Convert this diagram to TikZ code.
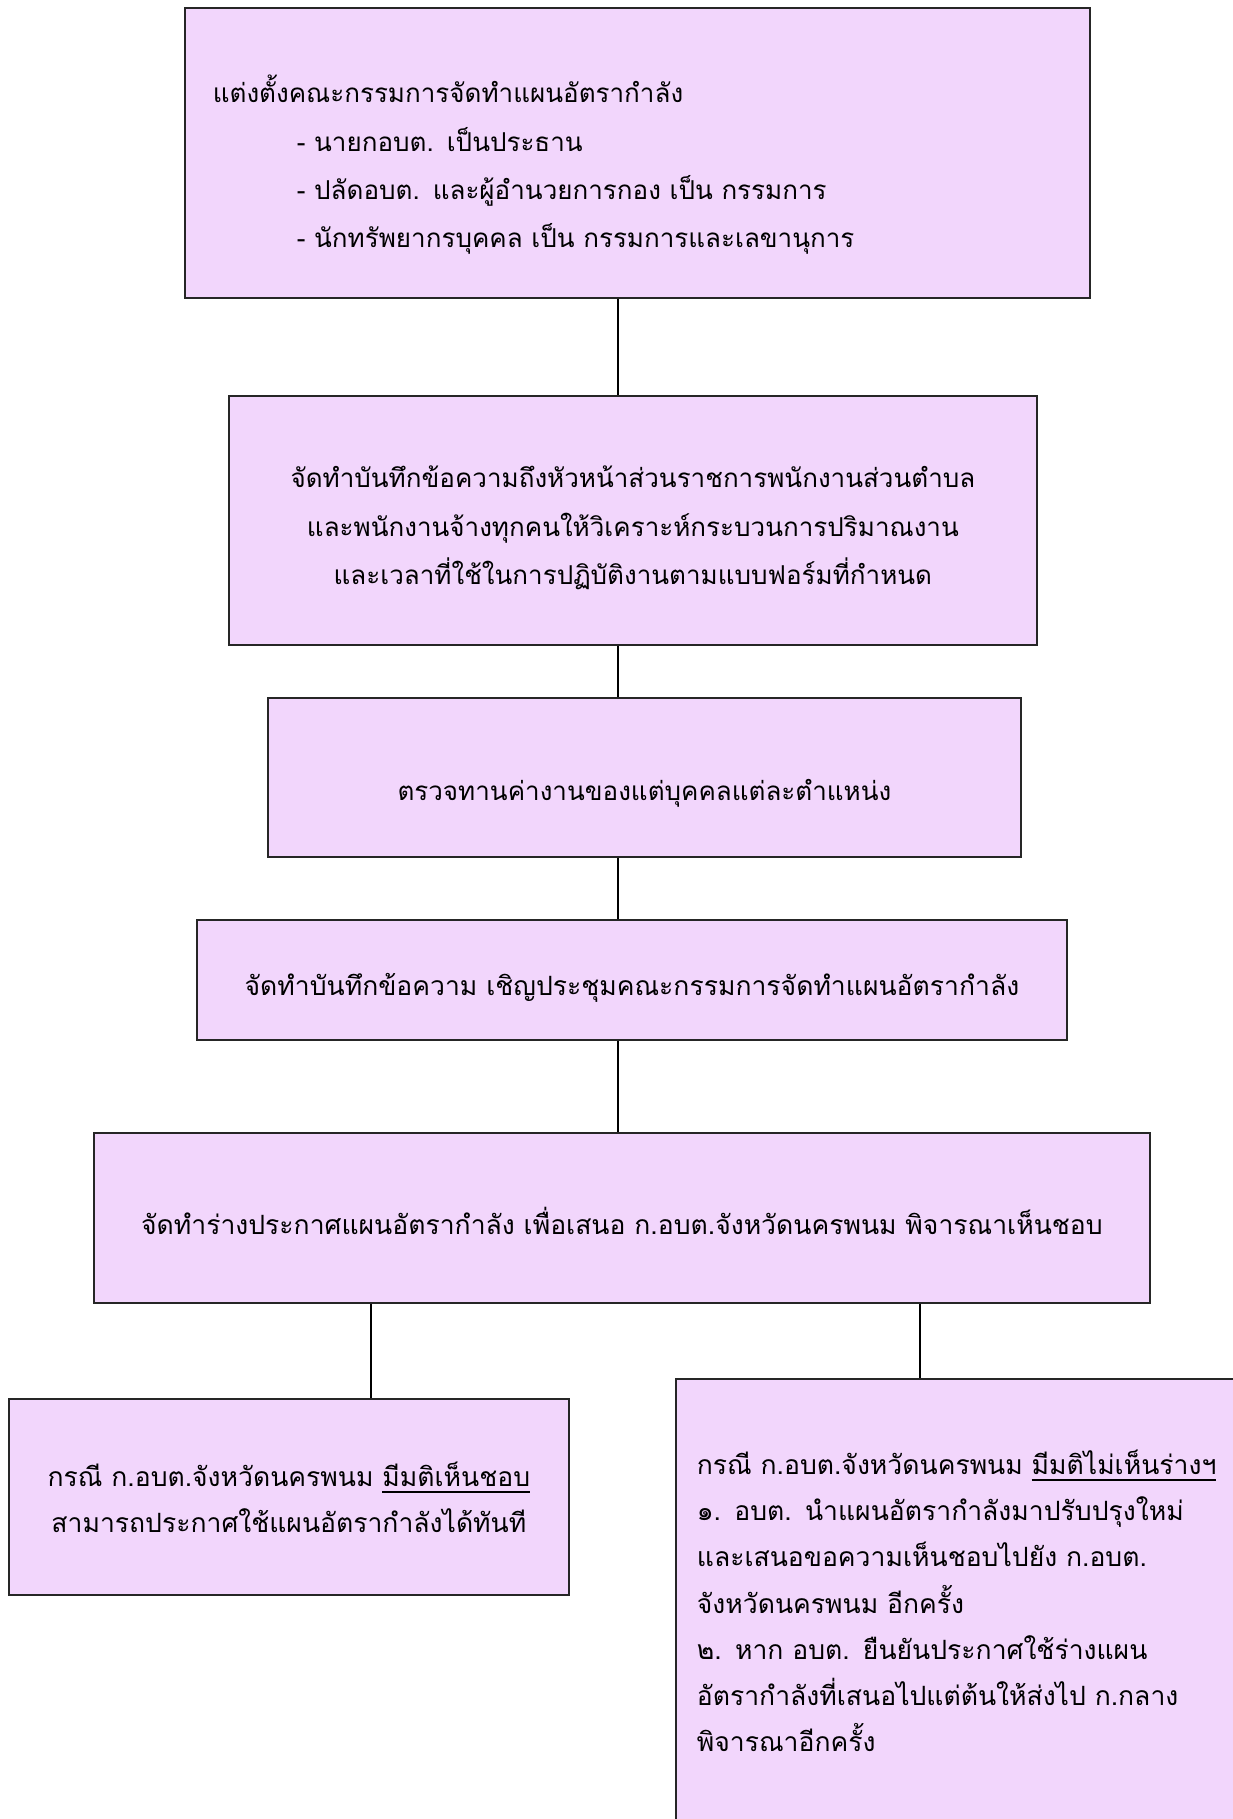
\documentclass[tikz,border=0pt]{standalone}
\usepackage{fontspec}
\setmainfont[Script=Thai]{Loma}
\usetikzlibrary{positioning}

\definecolor{boxfill}{RGB}{242,214,252}
\tikzset{
  plan/.style={draw=black!85, fill=boxfill, line width=0.5pt, inner sep=0pt,
    anchor=north west, align=center},
  narrowtxt/.style={font=\fontsize{7.4}{13.7}\selectfont},
  widetxt/.style={font=\fontsize{7.55}{13.1}\selectfont},
  txtpos/.style 2 args={text height=#1, text depth=#2},
}

\begin{document}
\begin{tikzpicture}[x=1cm, y=1cm]
   \useasboundingbox (0,0) rectangle (12.33,-18.19);

   \node[plan, narrowtxt, txtpos={0cm}{1.00cm}, minimum height=2.90cm,
         text width=8.49cm, inner xsep=0.28cm, align=left] (appoint) at (1.84,-0.07)
     {แต่งตั้งคณะกรรมการจัดทำแผนอัตรากำลัง\\
      \hspace*{0.84cm}- นายกอบต. เป็นประธาน\\
      \hspace*{0.84cm}- ปลัดอบต. และผู้อำนวยการกอง เป็น กรรมการ\\
      \hspace*{0.84cm}- นักทรัพยากรบุคคล เป็น กรรมการและเลขานุการ};
   \node[plan, narrowtxt, txtpos={0cm}{0.65cm}, text width=8.08cm, minimum height=2.49cm] (memo) at (2.28,-3.95)
     {จัดทำบันทึกข้อความถึงหัวหน้าส่วนราชการพนักงานส่วนตำบล\\
      และพนักงานจ้างทุกคนให้วิเคราะห์กระบวนการปริมาณงาน\\
      และเวลาที่ใช้ในการปฏิบัติงานตามแบบฟอร์มที่กำหนด};
   \node[plan, narrowtxt, txtpos={0.47cm}{0cm}, text width=7.53cm, minimum height=1.59cm] (review) at (2.67,-6.97)
     {ตรวจทานค่างานของแต่บุคคลแต่ละตำแหน่ง};
   \node[plan, widetxt, txtpos={0.32cm}{0cm}, text width=8.70cm, minimum height=1.20cm] (invite) at (1.96,-9.19)
     {จัดทำบันทึกข้อความ เชิญประชุมคณะกรรมการจัดทำแผนอัตรากำลัง};
   \node[plan, widetxt, txtpos={0.34cm}{0cm}, text width=10.56cm, minimum height=1.70cm] (draft) at (0.93,-11.32)
     {จัดทำร่างประกาศแผนอัตรากำลัง เพื่อเสนอ ก.อบต.จังหวัดนครพนม พิจารณาเห็นชอบ};
   \node[plan, widetxt, txtpos={0cm}{0.20cm}, text width=5.60cm, minimum height=1.96cm] (approve) at (0.08,-13.98)
     {กรณี ก.อบต.จังหวัดนครพนม \underline{มีมติเห็นชอบ}\\
      สามารถประกาศใช้แผนอัตรากำลังได้ทันที};
   \node[plan, widetxt, txtpos={0cm}{3.06cm}, minimum height=4.98cm,
         text width=5.35cm, inner xsep=0.21cm, align=left] (reject) at (6.75,-13.78)
     {กรณี ก.อบต.จังหวัดนครพนม \underline{มีมติไม่เห็นร่างฯ}\\
      ๑. อบต. นำแผนอัตรากำลังมาปรับปรุงใหม่\\
      และเสนอขอความเห็นชอบไปยัง ก.อบต.\\
      จังหวัดนครพนม อีกครั้ง\\
      ๒. หาก อบต. ยืนยันประกาศใช้ร่างแผน\\
      อัตรากำลังที่เสนอไปแต่ต้นให้ส่งไป ก.กลาง\\
      พิจารณาอีกครั้ง};

   \coordinate (spine) at (6.18,0);
   \coordinate (lbranch) at (3.71,0);
   \coordinate (rbranch) at (9.20,0);

   \path[line width=0.4pt]
    (appoint.south -| spine) edge (memo.north -| spine)
    (memo.south -| spine)    edge (review.north -| spine)
    (review.south -| spine)  edge (invite.north -| spine)
    (invite.south -| spine)  edge (draft.north -| spine)
    (draft.south -| lbranch) edge (approve.north -| lbranch)
    (draft.south -| rbranch) edge (reject.north -| rbranch);

\end{tikzpicture}
\end{document}
